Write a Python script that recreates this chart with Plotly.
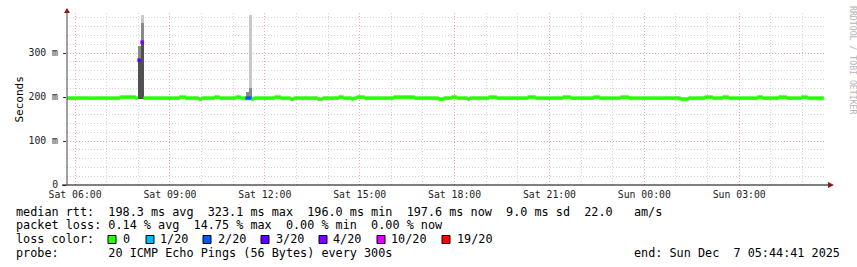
import pandas as pd
import plotly.graph_objects as go

# ---------------- data ----------------
window_start = "2025-12-06 05:44:41"
window_end = "2025-12-07 05:44:41"
first_step = "2025-12-06 05:45:00"
step_minutes = 5

# median rtt (ms) per 5-minute step, one row per hour
median_ms = [
    197.6, 197.5, 197.6, 197.7, 197.6, 197.5, 197.6, 197.6, 197.5, 197.6, 197.7, 197.6,
    197.6, 197.5, 197.6, 197.6, 197.7, 197.6, 197.5, 197.6, 199.3, 199.4, 199.3, 199.2,
    199.3, 199.2, 197.6, 284.0, 323.1, 197.6, 197.5, 197.6, 197.6, 197.7, 197.6, 197.5,
    197.6, 197.6, 197.5, 197.6, 197.6, 197.7, 197.6, 199.2, 199.3, 197.6, 197.5, 197.6,
    197.6, 197.5, 195.2, 197.6, 197.6, 197.7, 197.6, 197.5, 199.3, 199.2, 197.6, 197.6,
    197.7, 197.6, 197.5, 197.6, 199.2, 199.3, 197.6, 197.6, 197.5, 197.6, 195.1, 197.6,
    197.6, 197.5, 197.6, 197.7, 197.6, 197.5, 197.6, 199.2, 199.3, 197.6, 197.6, 197.5,
    197.6, 195.0, 197.6, 197.7, 197.6, 197.5, 197.6, 197.6, 197.7, 197.6, 197.5, 195.2,
    195.1, 197.6, 197.6, 197.5, 197.6, 197.7, 197.6, 199.2, 199.3, 197.6, 197.5, 197.6,
    195.2, 197.6, 199.3, 199.4, 199.3, 197.6, 197.5, 197.6, 197.6, 197.7, 197.6, 197.5,
    197.6, 197.6, 197.5, 197.6, 199.2, 199.3, 199.3, 199.2, 199.3, 199.2, 199.3, 199.2,
    197.6, 197.5, 197.6, 197.7, 197.6, 197.5, 197.6, 197.6, 197.5, 195.1, 195.0, 197.6,
    197.6, 197.7, 199.2, 199.3, 197.6, 197.5, 197.6, 197.6, 195.2, 197.6, 197.5, 197.6,
    197.6, 197.7, 197.6, 197.5, 199.3, 199.2, 199.3, 197.6, 197.6, 197.5, 197.6, 197.7,
    197.6, 197.5, 197.6, 197.6, 197.7, 197.6, 197.5, 199.2, 199.3, 199.2, 197.6, 197.6,
    197.5, 197.6, 197.7, 197.6, 197.6, 197.5, 197.6, 197.6, 199.2, 199.3, 199.2, 197.6,
    197.6, 197.5, 197.6, 197.7, 197.6, 197.5, 197.6, 197.6, 199.3, 199.2, 197.6, 197.5,
    197.6, 197.6, 197.7, 197.6, 197.5, 197.6, 199.2, 199.3, 199.2, 197.6, 197.6, 197.5,
    197.6, 197.7, 197.6, 197.5, 197.6, 197.6, 197.7, 197.6, 197.5, 197.6, 197.6, 197.7,
    197.6, 197.5, 197.6, 197.6, 197.7, 195.0, 194.9, 195.1, 197.6, 197.5, 197.6, 197.6,
    197.7, 197.6, 199.2, 199.3, 199.2, 197.6, 197.5, 197.6, 197.6, 199.3, 199.2, 197.6,
    197.6, 197.5, 197.6, 197.7, 197.6, 197.5, 197.6, 197.6, 197.7, 197.6, 199.2, 199.3,
    197.6, 197.5, 197.6, 197.6, 197.7, 197.6, 199.2, 199.3, 199.2, 197.6, 197.6, 197.5,
    197.6, 197.7, 197.6, 199.2, 199.3, 197.6, 197.5, 197.6, 197.6, 197.7, 197.6,
]

# lost pings out of 20, per step (only non-zero steps listed)
loss_steps = [27, 28, 68, 69]
loss_counts = [3, 4, 2, 2]

# smoke (ping distribution) for the steps where it is visible, in ms
smoke_steps = [27, 28, 68, 69]
smoke_low = [196.0, 196.0, 196.0, 196.0]
smoke_q1 = [284.0, 325.0, 197.0, 197.0]
smoke_q2 = [316.0, 368.0, 211.0, 220.0]
smoke_high = [316.0, 386.0, 211.0, 386.0]

# legend / statistics
loss_levels = [0, 1, 2, 3, 4, 10, 19]
loss_labels = ["0", "1/20", "2/20", "3/20", "4/20", "10/20", "19/20"]
stats_line1 = "median rtt:  198.3 ms avg  323.1 ms max  196.0 ms min  197.6 ms now  9.0 ms sd  22.0   am/s"
stats_line2 = "packet loss: 0.14 % avg  14.75 % max  0.00 % min  0.00 % now"
probe_line = "probe:       20 ICMP Echo Pings (56 Bytes) every 300s"
end_line = "end: Sun Dec  7 05:44:41 2025"
y_ticks = [0, 100, 200, 300]
y_ticktext = ["0", "100 m", "200 m", "300 m"]

# ---------------- styles ----------------
W, H = 857, 267
L, R, T, B = 67, 826, 13, 185
loss_colors = ["#26ff00", "#00b8ff", "#0059ff", "#5e00ff", "#7e00ff", "#dd00ff", "#ff0000"]
smoke_colors = ["#505050", "#8a8a8a", "#c8c8c8"]
mono = "DejaVu Sans Mono"
band_px = 3.0
y_max = 391.0
ms_per_px = y_max / (B - T)
band_half = band_px * ms_per_px / 2


def px(x):
    return (x - L) / (R - L)


def py(y):
    return (B - y) / (B - T)


step_len = pd.Timedelta(minutes=step_minutes)
t0 = pd.Timestamp(first_step)
mid = [t0 + step_len * k + step_len / 2 for k in range(len(median_ms))]
width_ms = step_len.total_seconds() * 1000

loss_full = [0] * len(median_ms)
for k, c in zip(loss_steps, loss_counts):
    loss_full[k] = c


def color_for(loss):
    col = loss_colors[0]
    for lvl, c in zip(loss_levels, loss_colors):
        if loss >= lvl:
            col = c
    return col


fig = go.Figure()

# smoke layers
sx = [mid[k] for k in smoke_steps]
layers = [(smoke_low, smoke_q1), (smoke_q1, smoke_q2), (smoke_q2, smoke_high)]
for (lo, hi), col in zip(layers, smoke_colors):
    fig.add_trace(go.Bar(
        x=sx, base=lo, y=[h - l for l, h in zip(lo, hi)],
        width=width_ms, marker=dict(color=col, line=dict(width=0)),
        hoverinfo="skip", showlegend=False))

# median band coloured by loss
fig.add_trace(go.Bar(
    x=mid, base=[m - band_half for m in median_ms], y=[2 * band_half] * len(median_ms),
    width=width_ms,
    marker=dict(color=[color_for(l) for l in loss_full],
                line=dict(width=0.6, color=[color_for(l) for l in loss_full])),
    hoverinfo="skip", showlegend=False))

fig.update_layout(
    width=W, height=H,
    margin=dict(l=L, r=W - R, t=T, b=H - B, pad=0),
    paper_bgcolor="white", plot_bgcolor="white",
    barmode="overlay", bargap=0,
    showlegend=False,
    font=dict(family=mono, size=10, color="#222"),
)

fig.update_xaxes(
    type="date", range=[window_start, window_end],
    tick0="2025-12-06 06:00:00", dtick=3 * 3600 * 1000,
    tickformat="%a %H:%M", tickfont=dict(family=mono, size=9.8, color="#222"),
    showgrid=True, gridcolor="#e8a8a8", griddash="1px,2px", gridwidth=1,
    minor=dict(dtick=3600 * 1000, showgrid=True, gridcolor="#d4d4d4", griddash="1px,2px", gridwidth=1),
    showline=False, zeroline=False, ticks="", ticklabelstandoff=2,
)
fig.update_yaxes(
    range=[0, y_max], tickvals=y_ticks, ticktext=y_ticktext,
    tickfont=dict(family=mono, size=9.8, color="#222"),
    showgrid=True, gridcolor="#e8a8a8", griddash="1px,2px", gridwidth=1,
    minor=dict(dtick=20, showgrid=True, gridcolor="#d4d4d4", griddash="1px,2px", gridwidth=1),
    showline=False, zeroline=False, ticks="outside", ticklen=3, tickcolor="#333",
    ticklabelstandoff=3,
)

shapes = [
    dict(type="line", xref="paper", yref="paper", x0=px(62), x1=px(829), y0=py(185), y1=py(185),
         line=dict(color="#000", width=1)),
    dict(type="line", xref="paper", yref="paper", x0=px(67), x1=px(67), y0=py(185), y1=py(11),
         line=dict(color="#444", width=1)),
    dict(type="path", xref="paper", yref="paper",
         path=f"M {px(64)},{py(13)} L {px(70)},{py(13)} L {px(67)},{py(8)} Z",
         fillcolor="#8b1a1a", line=dict(width=0)),
    dict(type="path", xref="paper", yref="paper",
         path=f"M {px(828)},{py(182)} L {px(828)},{py(188)} L {px(834)},{py(185)} Z",
         fillcolor="#8b1a1a", line=dict(width=0)),
]

nb = lambda s: s.replace(" ", "\u00a0")
ann = []


def text(x, y, s, size=11.8, anchor="left", color="#000", angle=0):
    ann.append(dict(x=px(x), y=py(y), xref="paper", yref="paper", text=nb(s), showarrow=False,
                    xanchor=anchor, yanchor="middle", textangle=angle,
                    font=dict(family=mono, size=size, color=color), borderpad=0))


text(15, 211.5, stats_line1)
text(15, 225, stats_line2)
text(15, 239, "loss color:")
sq_x = [108, 146, 203, 261, 319, 377, 442]
lab_x = [122, 159, 217, 275, 332, 390, 456]
for sx_, lx, lab, col in zip(sq_x, lab_x, loss_labels, loss_colors):
    shapes.append(dict(type="rect", xref="paper", yref="paper", x0=px(sx_), x1=px(sx_ + 8),
                       y0=py(243.5), y1=py(235.5), fillcolor=col, line=dict(color="#000", width=1)))
    text(lx, 239, lab)
text(15, 252.5, probe_line)
text(841, 252.5, end_line, anchor="right")
text(11, 100, "Seconds", size=11, angle=-90)
text(847, 60, "RRDTOOL / TOBI OETIKER", size=8.2, color="#b4b4b4", angle=90)

fig.update_layout(shapes=shapes, annotations=ann)
fig.write_html("out.html")
